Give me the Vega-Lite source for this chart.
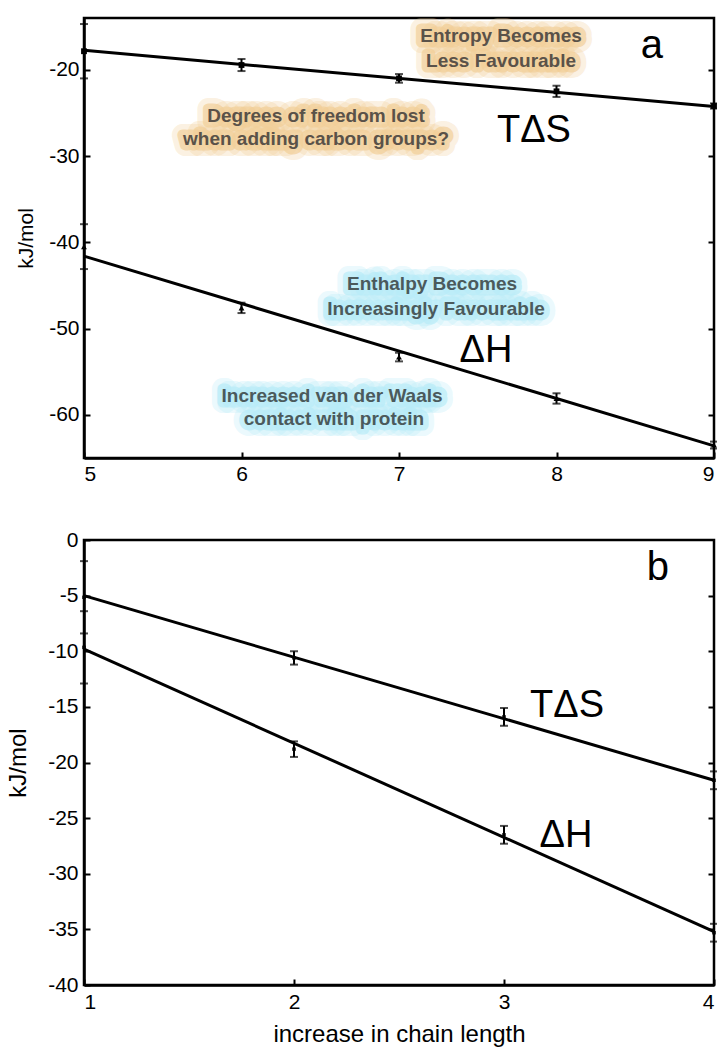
{
  "$schema": "https://vega.github.io/schema/vega-lite/v6.json",
  "padding": {"left": 5, "top": 16, "right": 0, "bottom": 0},
  "background": "white",
  "spacing": 41,
  "config": {
    "view": {"stroke": "black", "strokeWidth": 2.5},
    "font": "Liberation Sans",
    "axis": {
      "grid": false,
      "labelFont": "Liberation Sans",
      "titleFont": "Liberation Sans",
      "labelColor": "black",
      "titleColor": "black",
      "domainColor": "black",
      "tickColor": "black",
      "labelFontSize": 21,
      "titleFontWeight": "normal",
      "domainWidth": 2.5,
      "tickWidth": 2,
      "labelExpr": "'' + datum.value"
    }
  },
  "datasets": {
    "linesA": [
      {"x": 5, "y": -17.75, "s": "TdS"}, {"x": 9, "y": -24.25, "s": "TdS"},
      {"x": 5, "y": -41.6, "s": "dH"}, {"x": 9, "y": -63.6, "s": "dH"}
    ],
    "ptsA": [
      {"x": 5, "y": -17.85, "e": 3.15, "s": "TdS"},
      {"x": 6, "y": -19.45, "e": 0.7, "s": "TdS"},
      {"x": 7, "y": -21.0, "e": 0.5, "s": "TdS"},
      {"x": 8, "y": -22.5, "e": 0.65, "s": "TdS"},
      {"x": 9, "y": -24.2, "e": 0.3, "s": "TdS"},
      {"x": 5, "y": -40.5, "e": 2.6, "s": "dH"},
      {"x": 6, "y": -47.6, "e": 0.6, "s": "dH"},
      {"x": 7, "y": -53.3, "e": 0.5, "s": "dH"},
      {"x": 8, "y": -58.1, "e": 0.6, "s": "dH"},
      {"x": 9, "y": -63.5, "e": 0.4, "s": "dH"}
    ],
    "notesA": [
      {"t": "Entropy Becomes", "x": 7.648, "y": -16.09, "c": "E"},
      {"t": "Less Favourable", "x": 7.648, "y": -18.98, "c": "E"},
      {"t": "Degrees of freedom lost", "x": 6.473, "y": -25.36, "c": "E"},
      {"t": "when adding carbon groups?", "x": 6.473, "y": -28.03, "c": "E"},
      {"t": "Enthalpy Becomes", "x": 7.21, "y": -44.83, "c": "H"},
      {"t": "Increasingly Favourable", "x": 7.235, "y": -47.73, "c": "H"},
      {"t": "Increased van der Waals", "x": 6.575, "y": -57.82, "c": "H"},
      {"t": "contact with protein", "x": 6.587, "y": -60.48, "c": "H"}
    ],
    "labelsA": [
      {"t": "TΔS", "x": 7.857, "y": -27.1, "f": 30},
      {"t": "ΔH", "x": 7.552, "y": -52.6, "f": 30},
      {"t": "a", "x": 8.606, "y": -17.3, "f": 32}
    ],
    "linesB": [
      {"x": 1, "y": -5.0, "s": "TdS"}, {"x": 4, "y": -21.6, "s": "TdS"},
      {"x": 1, "y": -9.8, "s": "dH"}, {"x": 4, "y": -35.2, "s": "dH"}
    ],
    "ptsB": [
      {"x": 1, "y": -5.15, "e": 3.25, "s": "TdS"},
      {"x": 2, "y": -10.6, "e": 0.6, "s": "TdS"},
      {"x": 3, "y": -15.9, "e": 0.8, "s": "TdS"},
      {"x": 4, "y": -21.6, "e": 0.8, "s": "TdS"},
      {"x": 1, "y": -9.65, "e": 3.25, "s": "dH"},
      {"x": 2, "y": -18.8, "e": 0.7, "s": "dH"},
      {"x": 3, "y": -26.5, "e": 0.8, "s": "dH"},
      {"x": 4, "y": -35.3, "e": 0.8, "s": "dH"}
    ],
    "labelsB": [
      {"t": "TΔS", "x": 3.3, "y": -14.9, "f": 30},
      {"t": "ΔH", "x": 3.295, "y": -26.6, "f": 30},
      {"t": "b", "x": 3.733, "y": -2.5, "f": 32}
    ]
  },
  "vconcat": [
    {
      "width": 630,
      "height": 440,
      "encoding": {
        "x": {
          "field": "x", "type": "quantitative",
          "scale": {"domain": [5, 9], "nice": false, "zero": false},
          "axis": {"values": [5, 6, 7, 8, 9], "title": null, "tickSize": -6, "labelPadding": 11}
        }
      },
      "layer": [
        {
          "data": {"name": "linesA"},
          "mark": {"type": "line", "color": "black", "strokeWidth": 3},
          "encoding": {
            "y": {
              "field": "y", "type": "quantitative",
              "scale": {"domain": [-65, -14], "nice": false, "zero": false},
              "axis": {"values": [-60, -50, -40, -30, -20], "title": "kJ/mol", "titleFontSize": 21, "tickSize": -6, "labelPadding": 11, "titlePadding": 12}
            },
            "detail": {"field": "s"}
          }
        },
        {
          "data": {"name": "linesA"},
          "mark": {"type": "point", "opacity": 0},
          "encoding": {
            "y": {"field": "y", "type": "quantitative",
              "axis": {"orient": "right", "values": [-60, -50, -40, -30, -20], "labels": false, "domain": false, "tickSize": -6, "title": null}}
          }
        },
        {
          "data": {"name": "ptsA"},
          "mark": {"type": "errorbar", "color": "black", "thickness": 2, "ticks": {"size": 8}},
          "encoding": {
            "y": {"field": "y", "type": "quantitative", "axis": null},
            "yError": {"field": "e"}
          }
        },
        {
          "data": {"name": "ptsA"},
          "mark": {"type": "point", "filled": true, "color": "black", "size": 34, "opacity": 1},
          "encoding": {
            "y": {"field": "y", "type": "quantitative", "axis": null},
            "shape": {"field": "s", "scale": {"domain": ["TdS", "dH"], "range": ["square", "triangle-up"]}, "legend": null}
          }
        },
        {
          "data": {"name": "notesA"},
          "mark": {"type": "text", "fontWeight": "bold", "fontSize": 19, "strokeWidth": 22, "strokeOpacity": 0.3, "strokeJoin": "round", "fillOpacity": 0, "baseline": "middle", "align": "center"},
          "encoding": {
            "y": {"field": "y", "type": "quantitative", "axis": null},
            "text": {"field": "t"},
            "stroke": {"field": "c", "scale": {"domain": ["E", "H"], "range": ["#f2cf98", "#b8ecf8"]}, "legend": null}
          }
        },
        {
          "data": {"name": "notesA"},
          "mark": {"type": "text", "fontWeight": "bold", "fontSize": 19, "strokeWidth": 11, "strokeOpacity": 0.7, "strokeJoin": "round", "fillOpacity": 0, "baseline": "middle", "align": "center"},
          "encoding": {
            "y": {"field": "y", "type": "quantitative", "axis": null},
            "text": {"field": "t"},
            "stroke": {"field": "c", "scale": {"domain": ["E", "H"], "range": ["#f2cf98", "#b8ecf8"]}, "legend": null}
          }
        },
        {
          "data": {"name": "notesA"},
          "mark": {"type": "text", "fontWeight": "bold", "fontSize": 19, "baseline": "middle", "align": "center"},
          "encoding": {
            "y": {"field": "y", "type": "quantitative", "axis": null},
            "text": {"field": "t"},
            "fill": {"field": "c", "scale": {"domain": ["E", "H"], "range": ["#5a5249", "#4b5a5c"]}, "legend": null}
          }
        },
        {
          "data": {"name": "labelsA"},
          "mark": {"type": "text", "color": "black", "baseline": "middle", "align": "center"},
          "encoding": {
            "y": {"field": "y", "type": "quantitative", "axis": null},
            "text": {"field": "t"},
            "size": {"field": "f", "type": "quantitative", "scale": {"type": "identity"}, "legend": null}
          }
        }
      ],
      "resolve": {"axis": {"y": "independent"}}
    },
    {
      "width": 630,
      "height": 445,
      "encoding": {
        "x": {
          "field": "x", "type": "quantitative",
          "scale": {"domain": [1, 4], "nice": false, "zero": false},
          "axis": {"values": [1, 2, 3, 4], "title": "increase in chain length", "titleFontSize": 24, "titlePadding": 10, "tickSize": -6, "labelPadding": 12}
        }
      },
      "layer": [
        {
          "data": {"name": "linesB"},
          "mark": {"type": "line", "color": "black", "strokeWidth": 3},
          "encoding": {
            "y": {
              "field": "y", "type": "quantitative",
              "scale": {"domain": [-40, 0], "nice": false, "zero": false},
              "axis": {"values": [-40, -35, -30, -25, -20, -15, -10, -5, 0], "title": "kJ/mol", "titleFontSize": 24, "tickSize": -6, "labelPadding": 12, "titlePadding": 17}
            },
            "detail": {"field": "s"}
          }
        },
        {
          "data": {"name": "linesB"},
          "mark": {"type": "point", "opacity": 0},
          "encoding": {
            "y": {"field": "y", "type": "quantitative",
              "axis": {"orient": "right", "values": [-35, -30, -25, -20, -15, -10, -5], "labels": false, "domain": false, "tickSize": -6, "title": null}}
          }
        },
        {
          "data": {"name": "ptsB"},
          "mark": {"type": "errorbar", "color": "black", "thickness": 2, "ticks": {"size": 8}},
          "encoding": {
            "y": {"field": "y", "type": "quantitative", "axis": null},
            "yError": {"field": "e"}
          }
        },
        {
          "data": {"name": "ptsB"},
          "mark": {"type": "point", "filled": true, "color": "black", "size": 12, "shape": "square", "opacity": 1},
          "encoding": {
            "y": {"field": "y", "type": "quantitative", "axis": null}
          }
        },
        {
          "data": {"name": "labelsB"},
          "mark": {"type": "text", "color": "black", "baseline": "middle", "align": "center"},
          "encoding": {
            "y": {"field": "y", "type": "quantitative", "axis": null},
            "text": {"field": "t"},
            "size": {"field": "f", "type": "quantitative", "scale": {"type": "identity"}, "legend": null}
          }
        }
      ],
      "resolve": {"axis": {"y": "independent"}}
    }
  ]
}
